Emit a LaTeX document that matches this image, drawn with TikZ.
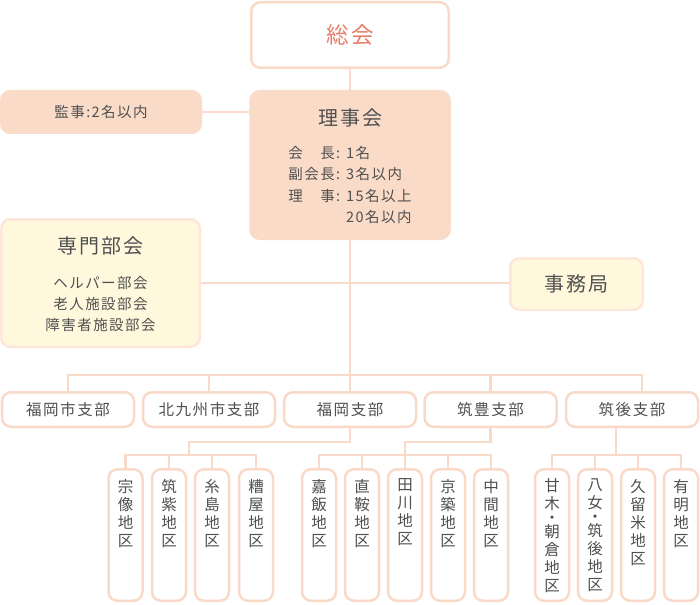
\documentclass[tikz,border=0pt]{standalone}
\usepackage{fontspec}
\setmainfont{Noto Sans CJK JP}[LetterSpace=10]
\usepackage{tikz}
\definecolor{linecol}{RGB}{249,218,200}
\definecolor{peach}{RGB}{250,219,200}
\definecolor{cream}{RGB}{255,248,221}
\definecolor{creamline}{RGB}{252,231,218}
\definecolor{textcol}{RGB}{80,80,80}
\definecolor{salmon}{RGB}{233,125,105}
\newcommand{\tatebox}[1]{\parbox[c][112pt][t]{22pt}{\centering #1}}

\begin{document}
\begin{tikzpicture}[x=1pt, y=-1pt, every node/.style={rounded corners=9pt, line width=2.5pt, text=textcol, inner sep=0pt},
	link/.style={draw=linecol, line width=2.5pt},
	white box/.style={draw=linecol, fill=white},
	peach box/.style={draw=peach, fill=peach},
	cream box/.style={draw=creamline, fill=cream},
	branch/.style={white box, minimum width=132pt, minimum height=34.5pt, font=\fontsize{15.5}{18}\selectfont},
	district/.style={white box, minimum width=34pt, minimum height=131.5pt, font=\fontsize{15.5}{18}\selectfont}]
			\useasboundingbox (0,0) rectangle (700,604);
			
			\node[white box, minimum width=197.5pt, minimum height=65.5pt, text=salmon, font=\fontsize{22.5}{24}\selectfont] (soukai) at (350,35){総会};
			\node[peach box, minimum width=199pt, minimum height=147.5pt, font=\fontsize{14.5}{21.5}\selectfont, align=center] (rijikai) at (350,165){\rule{0pt}{24pt}{\fontsize{20}{21.5}\selectfont 理事会}\\[11.5pt]\begin{tabular}[t]{@{}l@{\hspace{6pt}}l@{}}会　長:&1名\\副会長:&3名以内\\理　事:&15名以上\\&20名以内\end{tabular}};
			\node[peach box, minimum width=199.5pt, minimum height=41.5pt, font=\fontsize{14.5}{18}\selectfont] (kanji) at (101,112){監事:2名以内};
			\node[cream box, minimum width=198.5pt, minimum height=127.5pt, font=\fontsize{14.5}{21}\selectfont, align=center] (senmon) at (100.5,283){\rule{0pt}{20pt}{\fontsize{20}{21}\selectfont 専門部会}\\[14pt]ヘルパー部会\\老人施設部会\\障害者施設部会};
			\node[cream box, minimum width=132.5pt, minimum height=51.5pt, font=\fontsize{20}{22}\selectfont] (jimu) at (576.5,284){事務局};
			
			\node[branch] (fukuokashi) at (68,409.5){福岡市支部};
			\node[branch] (kitakyushu) at (209,409.5){北九州市支部};
			\node[branch] (fukuoka) at (350,409.5){福岡支部};
			\node[branch] (chikuho) at (490.5,409.5){筑豊支部};
			\node[branch] (chikugo) at (632,409.5){筑後支部};
			
			\node[district] (munakata) at (125.5,535){\tatebox{宗\\像\\地\\区}};
			\node[district] (chikushi) at (169,535){\tatebox{筑\\紫\\地\\区}};
			\node[district] (itoshima) at (212,535){\tatebox{糸\\島\\地\\区}};
			\node[district] (kasuya) at (256,535){\tatebox{糟\\屋\\地\\区}};
			\node[district] (kahan) at (319,535){\tatebox{嘉\\飯\\地\\区}};
			\node[district] (chokuan) at (362,535){\tatebox{直\\鞍\\地\\区}};
			\node[district] (tagawa) at (405,535){\tatebox{田\\川\\地\\区}};
			\node[district] (keichiku) at (448,535){\tatebox{京\\築\\地\\区}};
			\node[district] (nakama) at (491,535){\tatebox{中\\間\\地\\区}};
			\node[district] (amagi) at (552,535){\tatebox{甘\\木\\[-4pt]・\\[-4pt]朝\\倉\\地\\区}};
			\node[district] (yame) at (595,535){\tatebox{八\\女\\[-4pt]・\\[-4pt]筑\\後\\地\\区}};
			\node[district] (kurume) at (638,535){\tatebox{久\\留\\米\\地\\区}};
			\node[district] (ariake) at (681,535){\tatebox{有\\明\\地\\区}};
			
			\coordinate (bus) at (0,375);
			\coordinate (subbus) at (0,442);
			\coordinate (dbus) at (0,455);
			\coordinate (chikugotop) at (642,391);
			\coordinate (chikugobottom) at (616,428);
			\coordinate (fukuokadrop) at (189,442);
			
			\path[link] (soukai) -- (rijikai);
			\path[link] (kanji) -- (kanji -| rijikai.west);
			\path[link] (senmon) -- (senmon -| jimu.west);
			\path[link] (rijikai) -- (fukuoka);
			\path[link] (fukuokashi.north) |- (chikugotop |- bus) -- (chikugotop);
			\path[link] (kitakyushu.north) -- (kitakyushu.north |- bus);
			\path[link] (chikuho.north) -- (chikuho.north |- bus);
			
			\path[link] (fukuoka.south) |- (fukuokadrop) -- (fukuokadrop |- dbus);
			\path[link] (munakata.north) |- (kasuya.north |- dbus) -- (kasuya.north);
			\path[link] (chikushi.north) -- (chikushi.north |- dbus);
			\path[link] (itoshima.north) -- (itoshima.north |- dbus);
			
			\path[link] (chikuho.south) |- (tagawa.north |- subbus) -- (tagawa.north);
			\path[link] (kahan.north) |- (nakama.north |- dbus) -- (nakama.north);
			\path[link] (chokuan.north) -- (chokuan.north |- dbus);
			\path[link] (keichiku.north) -- (keichiku.north |- dbus);
			
			\path[link] (chikugobottom) -- (chikugobottom |- dbus);
			\path[link] (amagi.north) |- (ariake.north |- dbus) -- (ariake.north);
			\path[link] (yame.north) -- (yame.north |- dbus);
			\path[link] (kurume.north) -- (kurume.north |- dbus);
			\end{tikzpicture}
\end{document}
